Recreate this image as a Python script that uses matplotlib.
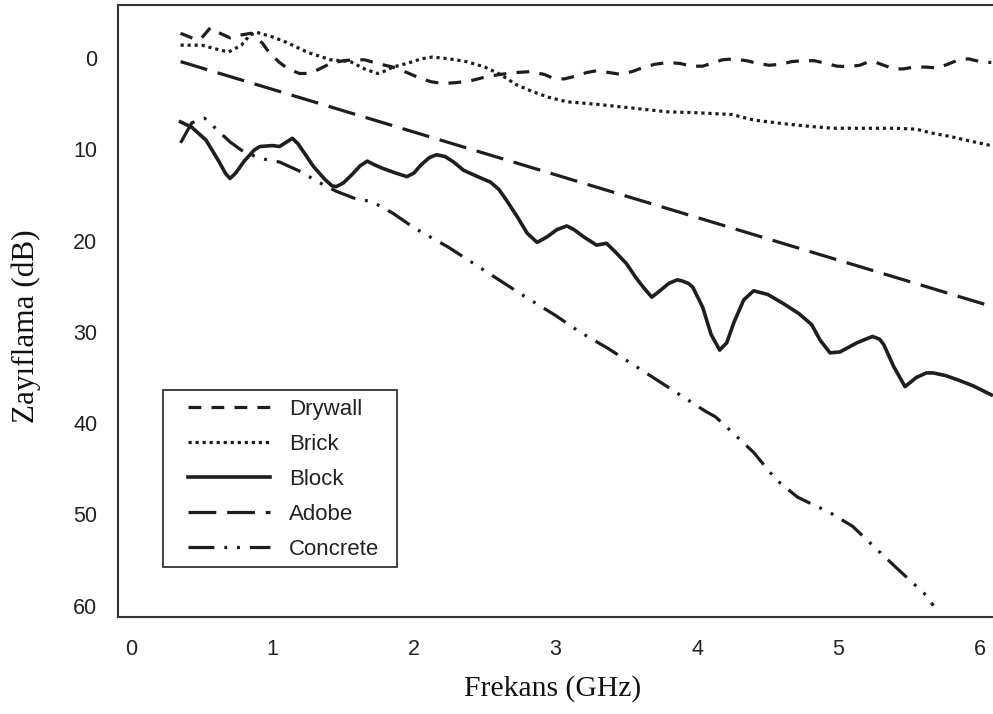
import matplotlib
matplotlib.use("Agg")
import matplotlib.pyplot as plt
from matplotlib.patches import Rectangle

# ---- data ----
drywall_x = [0.35, 0.43, 0.47, 0.50, 0.56, 0.63, 0.70, 0.77, 0.85, 0.93, 0.98, 1.05, 1.11, 1.19, 1.25, 1.32,
             1.41, 1.50, 1.57, 1.65, 1.74, 1.85, 1.95, 2.04, 2.12, 2.20, 2.30, 2.40, 2.50, 2.61, 2.72,
             2.82, 2.92, 2.98, 3.06, 3.14, 3.22, 3.29, 3.38, 3.46, 3.54, 3.61, 3.70, 3.79, 3.88, 3.96,
             4.04, 4.10, 4.18, 4.26, 4.35, 4.43, 4.51, 4.59, 4.67, 4.75, 4.83, 4.91, 4.99, 5.07, 5.15,
             5.20, 5.25, 5.32, 5.39, 5.46, 5.53, 5.62, 5.70, 5.77, 5.85, 5.92, 6.00, 6.08]
drywall_y = [-2.7, -2.2, -2.0, -2.2, -3.3, -2.7, -2.2, -2.5, -2.7, -1.6, -0.5, 0.5, 1.2, 1.7, 1.7, 1.3,
             0.6, 0.3, 0.2, 0.2, 0.6, 1.0, 1.6, 2.2, 2.6, 2.8, 2.7, 2.5, 2.1, 1.8, 1.6,
             1.5, 1.8, 2.2, 2.3, 2.0, 1.6, 1.4, 1.6, 1.8, 1.5, 1.1, 0.7, 0.5, 0.6, 0.9,
             0.9, 0.6, 0.2, 0.1, 0.3, 0.6, 0.8, 0.7, 0.4, 0.3, 0.3, 0.6, 0.9, 0.95, 0.8,
             0.5, 0.4, 0.8, 1.2, 1.2, 1.0, 1.0, 1.1, 0.7, 0.2, 0.1, 0.4, 0.5]

brick_x = [0.35, 0.50, 0.62, 0.69, 0.78, 0.84, 0.89, 1.00, 1.10, 1.25, 1.41, 1.55, 1.65, 1.74, 1.80,
           1.85, 1.95, 2.05, 2.13, 2.25, 2.37, 2.50, 2.61, 2.72, 2.84, 2.95, 3.08, 3.31, 3.55, 3.79,
           4.00, 4.25, 4.40, 4.61, 4.80, 4.96, 5.20, 5.40, 5.55, 5.65, 5.79, 5.90, 6.08]
brick_y = [-1.4, -1.4, -0.9, -0.65, -1.4, -2.5, -2.8, -2.3, -1.7, -0.6, 0.2, 0.4, 1.2, 1.7, 1.4,
           1.0, 0.6, 0.1, -0.1, 0.1, 0.4, 1.0, 1.8, 2.9, 3.7, 4.3, 4.8, 5.1, 5.5, 5.9,
           6.0, 6.2, 6.8, 7.2, 7.5, 7.7, 7.7, 7.7, 7.8, 8.2, 8.6, 9.0, 9.6]

block_x = [0.35, 0.43, 0.53, 0.62, 0.67, 0.70, 0.74, 0.80, 0.87, 0.91, 1.00, 1.05, 1.10, 1.14, 1.18,
           1.22, 1.29, 1.37, 1.42, 1.45, 1.50, 1.56, 1.62, 1.67, 1.72, 1.78, 1.87, 1.95, 2.00, 2.05,
           2.11, 2.16, 2.22, 2.28, 2.35, 2.45, 2.54, 2.60, 2.65, 2.73, 2.80, 2.87, 2.94, 3.01, 3.08,
           3.13, 3.20, 3.29, 3.36, 3.42, 3.50, 3.57, 3.62, 3.68, 3.73, 3.80, 3.86, 3.89, 3.94, 3.97,
           4.04, 4.10, 4.16, 4.21, 4.26, 4.33, 4.40, 4.50, 4.61, 4.72, 4.81, 4.87, 4.94, 5.01, 5.13,
           5.24, 5.29, 5.32, 5.39, 5.47, 5.55, 5.62, 5.67, 5.76, 5.85, 5.95, 6.08]
block_y = [7.0, 7.6, 9.0, 11.3, 12.7, 13.2, 12.6, 11.3, 10.1, 9.7, 9.6, 9.7, 9.2, 8.8, 9.4,
           10.3, 11.9, 13.3, 14.0, 14.1, 13.7, 12.8, 11.8, 11.3, 11.7, 12.1, 12.6, 13.0, 12.6, 11.7,
           10.9, 10.6, 10.8, 11.4, 12.3, 13.0, 13.6, 14.4, 15.5, 17.4, 19.2, 20.2, 19.6, 18.8, 18.4,
           18.8, 19.6, 20.5, 20.3, 21.2, 22.5, 24.1, 25.1, 26.2, 25.6, 24.7, 24.3, 24.4, 24.7, 25.1,
           27.3, 30.3, 32.0, 31.2, 29.0, 26.5, 25.5, 25.9, 26.9, 28.0, 29.2, 30.9, 32.3, 32.2, 31.2,
           30.5, 30.8, 31.4, 33.8, 36.0, 35.0, 34.5, 34.5, 34.8, 35.3, 35.9, 36.9]

adobe_x = [0.35, 6.08]
adobe_y = [0.4, 27.2]

concrete_x = [0.35, 0.43, 0.52, 0.59, 0.70, 0.78, 0.88, 0.97, 1.05, 1.22, 1.30, 1.45, 1.60, 1.70,
              1.78, 1.85, 2.00, 2.24, 2.40, 2.61, 2.77, 3.00, 3.17, 3.37, 3.53, 3.75, 3.90, 4.06,
              4.13, 4.27, 4.40, 4.56, 4.71, 4.79, 4.94, 5.10, 5.29, 5.42, 5.63, 5.67]
concrete_y = [9.3, 7.1, 6.6, 7.6, 9.2, 10.1, 10.8, 11.2, 11.4, 12.6, 13.4, 14.6, 15.5, 15.7,
              16.4, 17.0, 18.6, 20.7, 22.3, 24.4, 26.0, 28.2, 30.0, 31.8, 33.4, 35.6, 37.1, 38.7,
              39.3, 41.3, 43.2, 46.2, 48.1, 48.7, 49.8, 51.3, 54.1, 56.0, 59.0, 60.0]

labels = ["Drywall", "Brick", "Block", "Adobe", "Concrete"]
x_ticks = [0, 1, 2, 3, 4, 5, 6]
y_ticks = [0, 10, 20, 30, 40, 50, 60]

# ---- figure ----
W, H = 993, 714
fig = plt.figure(figsize=(W / 100, H / 100), dpi=100)
AX_L, AX_R, AX_T, AX_B = 118, 995, 5, 617
ax = fig.add_axes([AX_L / W, 1 - AX_B / H, (AX_R - AX_L) / W, (AX_B - AX_T) / H])


def ax_x(px):
    return (px - AX_L) / (AX_R - AX_L)


def ax_y(py):
    return (AX_B - py) / (AX_B - AX_T)


col = "#1e1e1e"
lw = 2.3
ax.plot(drywall_x, drywall_y, color=col, lw=lw, linestyle=(0, (4.0, 3.2)), label=labels[0])
ax.plot(brick_x, brick_y, color=col, lw=lw, linestyle=(0, (1.0, 1.2)), label=labels[1])
ax.plot(block_x, block_y, color=col, lw=2.6, linestyle="-", label=labels[2])
ax.plot(adobe_x, adobe_y, color=col, lw=lw, linestyle=(0, (8.7, 3.4)), label=labels[3])
ax.plot(concrete_x, concrete_y, color=col, lw=lw,
        linestyle=(0, (8.1, 3.1, 0.9, 3.1, 0.9, 3.1)), label=labels[4])

ax.set_xlim(-0.092, 6.106)
ax.set_ylim(61.23, -5.8)
ax.set_xticks(x_ticks)
ax.set_yticks(y_ticks)

tick_font = "Liberation Sans"
ax.tick_params(axis="both", length=0, labelsize=15.5, colors="#222222")
ax.tick_params(axis="y", pad=15)
ax.tick_params(axis="x", pad=16)
for lab in ax.get_xticklabels() + ax.get_yticklabels():
    lab.set_fontfamily(tick_font)

for s in ["left", "top", "bottom"]:
    ax.spines[s].set_linewidth(1.5)
    ax.spines[s].set_color("#333333")
ax.spines["right"].set_visible(False)

ax.set_xlabel("Frekans (GHz)", fontsize=21.3, fontfamily="Liberation Serif", color="#111111",
              va="center")
ax.set_ylabel("Zayıflama (dB)", fontsize=22.5, fontfamily="Liberation Serif", color="#111111",
              va="center")
ax.xaxis.set_label_coords(ax_x(553), ax_y(689))
ax.yaxis.set_label_coords(ax_x(26), ax_y(326))

# legend box drawn separately so its padding matches the reference
box = Rectangle((ax_x(163), ax_y(567)), ax_x(397) - ax_x(163), ax_y(390) - ax_y(567),
                transform=ax.transAxes, facecolor="white", edgecolor="#333333",
                linewidth=1.3, zorder=4.8)
ax.add_patch(box)

leg = ax.legend(loc="upper left", bbox_to_anchor=(ax_x(188), ax_y(399)),
                bbox_transform=ax.transAxes, borderaxespad=0, borderpad=0, frameon=False,
                prop={"family": tick_font, "size": 16}, handlelength=3.7,
                handletextpad=0.85, labelspacing=0.625)
leg.set_zorder(5)
for t in leg.get_texts():
    t.set_color("#222222")

fig.savefig("out.png", dpi=100)
